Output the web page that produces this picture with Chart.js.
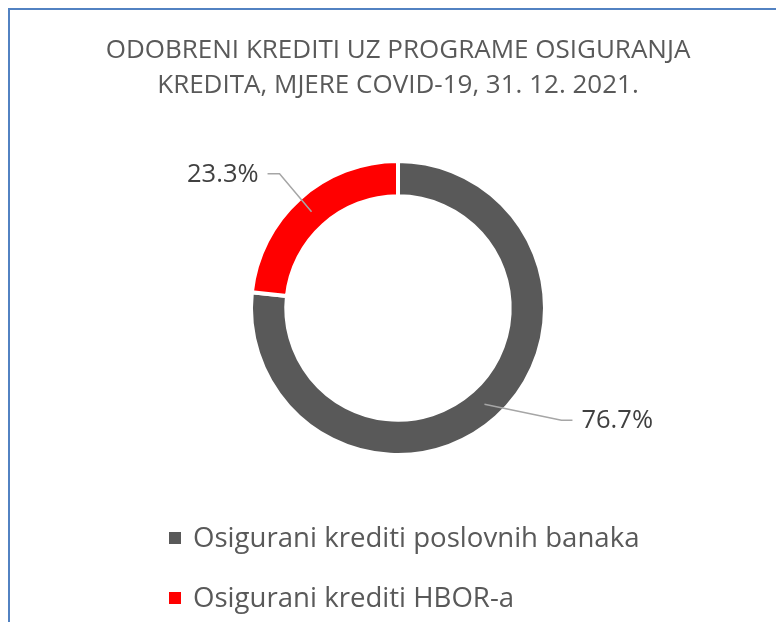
<!DOCTYPE html>
<html>
<head>
<meta charset="utf-8">
<script src="https://cdn.jsdelivr.net/npm/chart.js@4/dist/chart.umd.min.js"></script>
<style>
  body { margin: 0; background: #fff; }
  #wrap { position: relative; width: 776px; height: 622px; overflow: hidden; }
  #frame { position: absolute; left: 8px; top: 8px; right: -4px; bottom: -4px;
           border-left: 2px solid #5282c2; border-top: 2px solid #5282c2; }
  canvas { position: absolute; left: 0; top: 0; }
</style>
</head>
<body>
<div id="wrap">
  <div id="frame"></div>
  <canvas id="chart" width="776" height="622"></canvas>
</div>
<script>
`use strict`;

// categories and shares (percent)
const categories = ['Osigurani krediti poslovnih banaka', 'Osigurani krediti HBOR-a'];
const shares = [76.7, 23.3];
const colours = ['#595959', '#ff0000'];
const titleLines = ['ODOBRENI KREDITI UZ PROGRAME OSIGURANJA', 'KREDITA, MJERE COVID-19, 31. 12. 2021.'];

const FONT = '"Open Sans", Lato, sans-serif';

// title drawn over the full width (the built-in one gets squeezed by the padding)
const wideTitlePlugin = {
    id: 'wideTitle',
    afterDraw(chart, args, opts) {
        const ctx = chart.ctx;
        ctx.save();
        ctx.font = opts.size + 'px ' + FONT;
        ctx.fillStyle = '#595959';
        ctx.textAlign = 'center';
        ctx.textBaseline = 'middle';
        titleLines.forEach(function(line, i) {
            ctx.fillText(line, opts.x, opts.top + i * opts.step);
        });
        ctx.restore();
    }
};

// data labels with leader lines, like Excel's callouts
const calloutPlugin = {
    id: 'callouts',
    afterDatasetsDraw(chart, args, opts) {
        const ctx = chart.ctx;
        const arcs = chart.getDatasetMeta(0).data;
        ctx.save();
        ctx.font = opts.size + 'px ' + FONT;
        ctx.textBaseline = 'middle';
        arcs.forEach(function(arc, i) {
            const p = arc.getCenterPoint();
            const o = opts.offsets[i];
            const ex = p.x + o.dx, ey = p.y + o.dy;
            const hx = ex + o.run;
            ctx.strokeStyle = '#a6a6a6';
            ctx.lineWidth = 1.5;
            ctx.beginPath();
            ctx.moveTo(p.x, p.y);
            ctx.lineTo(ex, ey);
            ctx.lineTo(hx, ey);
            ctx.stroke();
            ctx.fillStyle = '#404040';
            const txt = shares[i].toFixed(1) + '%';
            if (o.run < 0) {
                ctx.textAlign = 'right';
                ctx.fillText(txt, hx - 9, ey + 1);
            } else {
                ctx.textAlign = 'left';
                ctx.fillText(txt, hx + 9, ey + 1);
            }
        });
        ctx.restore();
    }
};

// vertical legend under the ring
const listLegendPlugin = {
    id: 'listLegend',
    afterDraw(chart, args, opts) {
        const ctx = chart.ctx;
        ctx.save();
        ctx.font = opts.size + 'px ' + FONT;
        ctx.textBaseline = 'middle';
        ctx.textAlign = 'left';
        chart.data.labels.forEach(function(label, i) {
            const y = opts.top + i * opts.step;
            ctx.fillStyle = chart.data.datasets[0].backgroundColor[i];
            ctx.fillRect(opts.left, y - 6, 12, 12);
            ctx.fillStyle = '#595959';
            ctx.fillText(label, opts.left + 24, y + 1);
        });
        ctx.restore();
    }
};

new Chart(document.getElementById('chart'), {
    type: 'doughnut',
    data: {
        labels: categories,
        datasets: [{
            data: shares,
            backgroundColor: colours,
            borderColor: '#ffffff',
            borderWidth: 4,
            hoverBorderWidth: 4,
            hoverOffset: 0
        }]
    },
    options: {
        responsive: false,
        animation: false,
        cutout: '76%',
        layout: { padding: { left: 249, right: 229, top: 159, bottom: 165 } },
        plugins: {
            legend: { display: false },
            title: { display: false },
            tooltip: { enabled: false },
            wideTitle: { size: 26, x: 398, top: 51, step: 35 },
            callouts: {
                size: 25.5,
                offsets: [
                    { dx: 77, dy: 16, run: 11 },
                    { dx: -32, dy: -38, run: -12 }
                ]
            },
            listLegend: { size: 27.6, left: 169, top: 538, step: 60 }
        }
    },
    plugins: [wideTitlePlugin, calloutPlugin, listLegendPlugin]
});
</script>
</body>
</html>
